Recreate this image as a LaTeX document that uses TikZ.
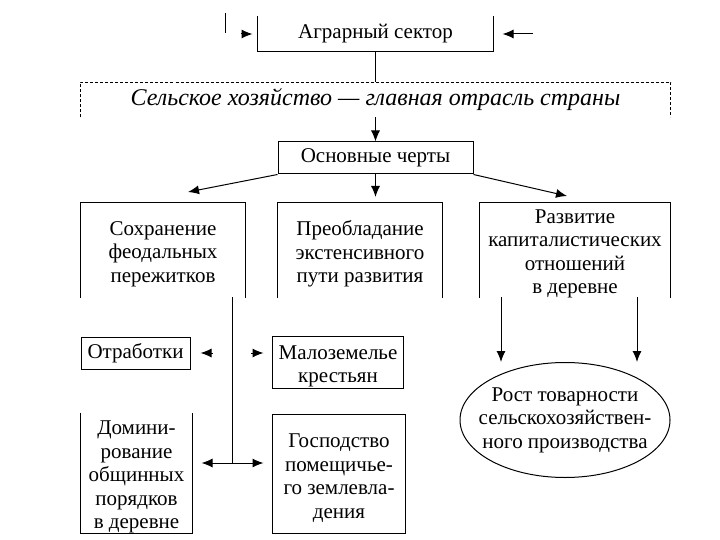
\documentclass[tikz,border=0pt]{standalone}
\usepackage{fontspec}
\setmainfont{Liberation Serif}
\usetikzlibrary{arrows.meta}

\begin{document}
\begin{tikzpicture}[x=1bp,y=-1bp,line width=1bp,
    >={Latex[length=11bp,width=9bp]},
    every node/.style={font=\fontsize{21bp}{23.5bp}\selectfont,align=center,inner sep=0pt},
    cell/.style={draw},
    low/.style={yshift=-4bp},
    dashline/.style={dash pattern=on 3bp off 2bp,line width=0.7bp}]

        \useasboundingbox (0,0) rectangle (720,540);

        % the boxes (the text sits a bit low in most of them, so their frames are drawn further down)
        \node (agr) [minimum width=235bp,minimum height=34bp] at (375.5,34) {Аграрный сектор};
        \node (main) [minimum width=589bp,minimum height=34bp,font=\fontsize{24bp}{26bp}\selectfont\itshape] at (375.5,100) {Сельское хозяйство — главная отрасль страны};
        \node (feat) [cell,minimum width=195bp,minimum height=32bp] at (375.5,158) {Основные черты};

        \node (b1) [low,minimum width=164bp,minimum height=94bp] at (163,250) {Сохранение\\феодальных\\пережитков};
        \node (b2) [low,minimum width=164bp,minimum height=94bp] at (360,250) {Преобладание\\экстенсивного\\пути развития};
        \node (b3) [low,minimum width=190bp,minimum height=94bp] at (575,250) {Развитие\\капиталистических\\отношений\\в деревне};

        \node (otr) [cell,minimum width=109bp,minimum height=32bp] at (135.5,353) {Отработки};
        \node (mal) [low,minimum width=130bp,minimum height=51bp] at (338,362.5) {Малоземелье\\крестьян};
        \node (dom) [low,minimum width=111bp,minimum height=120bp] at (136.5,473) {Домини-\\рование\\общинных\\порядков\\в деревне};
        \node (gos) [low,minimum width=132bp,minimum height=118bp] at (339,474) {Господство\\помещичье-\\го землевла-\\дения};
        \node (ell) [minimum width=210bp,minimum height=115bp] at (565,420) {Рост товарности\\сельскохозяйствен-\\ного производства};

        % the frames
        \draw (agr.north west) -- (agr.south west) -- (agr.south east) -- (agr.north east);
        \draw[dashline] (main.south west) -- (main.north west) -- (main.north east) -- (main.south east);
        \foreach \b in {b1,b2,b3}
            \draw ([yshift=4bp]\b.south west) -- ([yshift=4bp]\b.north west) -- ([yshift=4bp]\b.north east) -- ([yshift=4bp]\b.south east);
        \draw ([yshift=4bp]dom.north west) -- ([yshift=4bp]dom.south west) -- ([yshift=4bp]dom.south east) -- ([yshift=4bp]dom.north east);
        \foreach \b in {mal,gos}
            \draw ([yshift=4bp]\b.south west) rectangle ([yshift=4bp]\b.north east);
        \draw (ell.center) ellipse [x radius=105bp,y radius=57.5bp];

        % free ends of the arrows
        \coordinate (t1) at (225,13);
        \coordinate (t2) at (225,33);
        \coordinate (la) at (241,34);
        \coordinate (ra) at (533,34);
        \coordinate (c1) at (188,192);
        \coordinate (c2) at (375.5,197);
        \coordinate (c3) at (567,196);
        \coordinate (v1) at (232,297);
        \coordinate (v2) at (232,463);
        \coordinate (h1) at (213,353);
        \coordinate (h2) at (251,353);
        \coordinate (d1) at (501,297);
        \coordinate (d2) at (637,297);

        % draw the arrows
        \draw (t1) -- (t2);
        \draw[->,shorten >=5bp] (la) -- (agr.west);
        \draw[->,shorten >=9bp] (ra) -- (agr.east);
        \draw (agr.south) -- (main.north);
        \draw[->] (main.south) -- (feat.north);
        \draw[->] (feat.south west) -- (c1);
        \draw[->] (feat.south) -- (c2);
        \draw[->] (feat.south east) -- (c3);
        \draw (v1) -- (v2);
        \draw[->,shorten >=10bp] (h1) -- (otr.east);
        \draw[->,shorten >=9bp] (h2) -- (mal.west |- h2);
        \draw[<->,shorten <=9bp,shorten >=9bp] (dom.east |- v2) -- (gos.west |- v2);
        \draw[->] (d1) -- (d1 |- ell.north);
        \draw[->] (d2) -- (d2 |- ell.north);

\end{tikzpicture}
\end{document}
